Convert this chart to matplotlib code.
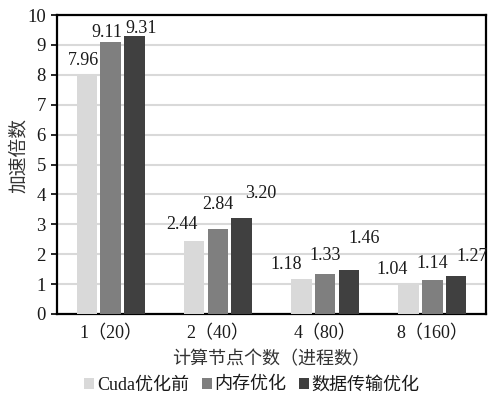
import matplotlib
matplotlib.use("Agg")
import matplotlib.pyplot as plt
import numpy as np

categories = ["1（20）", "2（40）", "4（80）", "8（160）"]
series_names = ["Cuda优化前", "内存优化", "数据传输优化"]
cuda_before = [7.96, 2.44, 1.18, 1.04]
mem_opt = [9.11, 2.84, 1.33, 1.14]
transfer_opt = [9.31, 3.20, 1.46, 1.27]
y_ticks = [0, 1, 2, 3, 4, 5, 6, 7, 8, 9, 10]
x_label = "计算节点个数（进程数）"
y_label = "加速倍数"

colors = ["#d9d9d9", "#7f7f7f", "#404040"]
# label offsets in pixels (dx, dy) relative to bar top centre, per series then per category
label_offsets = [
    [(-3.5, 15), (-12, 17), (-15.5, 14), (-16.5, 13)],
    [(-3.5, 9), (0, 25), (0, 19), (0, 16)],
    [(6.5, 7), (19.5, 25), (15.5, 32), (15.5, 20)],
]

FONTS = ["Liberation Serif", "Noto Sans CJK SC", "DejaVu Sans"]
plt.rcParams["font.family"] = FONTS

fig = plt.figure(figsize=(5.04, 3.98), dpi=100)
ax = fig.add_axes([57 / 504, 1 - 314 / 398, (486 - 57) / 504, (314 - 15) / 398])

x = np.arange(len(categories))
width = 0.19
step = 0.222
all_series = [cuda_before, mem_opt, transfer_opt]
for i, (vals, name, col) in enumerate(zip(all_series, series_names, colors)):
    pos = x + (i - 1) * step
    bars = ax.bar(pos, vals, width, color=col, label=name, zorder=3)
    for j, (b, v) in enumerate(zip(bars, vals)):
        dx, dy = label_offsets[i][j]
        ax.annotate(f"{v:.2f}", (b.get_x() + b.get_width() / 2, v),
                    xytext=(dx, dy), textcoords="offset pixels",
                    ha="center", va="center", fontsize=13,
                    family=FONTS, color="#1a1a1a", zorder=4)

ax.set_xlim(-0.5, len(categories) - 0.5)
ax.set_ylim(0, 10)
ax.set_yticks(y_ticks)
ax.set_xticks(x)
ax.set_xticklabels(categories, fontsize=13, family=FONTS, color="#1a1a1a")
ax.tick_params(axis="y", labelsize=13.5, direction="out", length=4, width=1.2, pad=4,
               labelcolor="#1a1a1a")
ax.tick_params(axis="x", length=0, pad=8)
for lbl in ax.get_yticklabels():
    lbl.set_family(FONTS)
ax.yaxis.grid(True, color="#d9d9d9", linewidth=1.5, zorder=0)
ax.set_axisbelow(True)
for s in ax.spines.values():
    s.set_color("black")
    s.set_linewidth(1.6)

ax.set_xlabel(x_label, fontsize=13, family=["Noto Sans CJK SC"], color="#333333")
ax.set_ylabel(y_label, fontsize=13.5, family=["Noto Sans CJK SC"], color="#333333")
ax.xaxis.set_label_coords(0.5, -(359 - 314) / 299, transform=ax.transAxes)
ax.xaxis.label.set_va("center")
ax.yaxis.set_label_coords(-(57 - 18) / 429, 0.53)
ax.yaxis.label.set_va("center")

leg = fig.legend(loc="center", bbox_to_anchor=(0.5, 1 - 385 / 398), ncol=3,
                 frameon=False, handlelength=0.55, handleheight=0.55,
                 handletextpad=0.15, columnspacing=0.7, borderaxespad=0,
                 prop={"family": ["Liberation Serif", "Noto Sans CJK SC"], "size": 13})
for t in leg.get_texts():
    t.set_color("#1a1a1a")

fig.savefig("out.png", dpi=100)
